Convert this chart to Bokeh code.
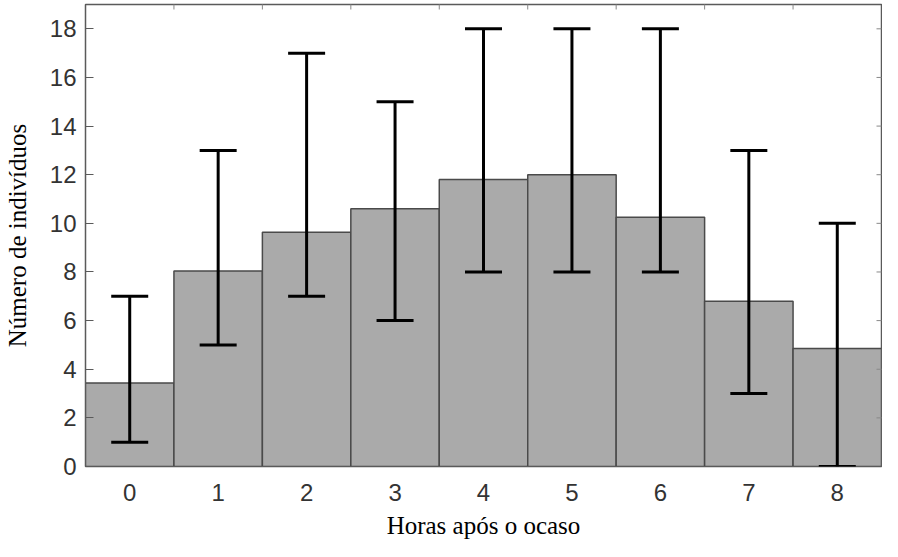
import math
from bokeh.plotting import figure
from bokeh.models import ColumnDataSource, Whisker, TeeHead, FixedTicker
from bokeh.embed import file_html
from bokeh.resources import INLINE

hours = [0, 1, 2, 3, 4, 5, 6, 7, 8]
means = [3.43, 8.04, 9.63, 10.6, 11.8, 12.0, 10.25, 6.8, 4.85]
lower = [1, 5, 7, 6, 8, 8, 8, 3, 0]
upper = [7, 13, 17, 15, 18, 18, 18, 13, 10]
y_ticks = [0, 2, 4, 6, 8, 10, 12, 14, 16, 18]
top_ticks = [0.5, 1.5, 2.5, 3.5, 4.5, 5.5, 6.5, 7.5]

X0, X1 = -0.5, 8.5
Y0, Y1 = 0, 19.0

src = ColumnDataSource(dict(x=hours, top=means, lo=lower, hi=upper))

p = figure(width=882, height=541, output_backend="svg", toolbar_location=None,
           x_range=(X0, X1), y_range=(Y0, Y1),
           min_border_left=85, min_border_right=1, min_border_top=4, min_border_bottom=75)
p.xgrid.visible = False
p.ygrid.visible = False
p.background_fill_color = "white"
p.border_fill_color = "white"
p.outline_line_color = "#5a5a5a"
p.outline_line_width = 1.5

p.vbar(x="x", top="top", width=1.0, source=src, fill_color="#aaaaaa",
       line_color="#4a4a4a", line_width=1.5)

w = Whisker(base="x", lower="lo", upper="hi", source=src, line_color="black", line_width=3,
            upper_head=TeeHead(size=37, line_width=3, line_color="black"),
            lower_head=TeeHead(size=37, line_width=3, line_color="black"),
            level="overlay")
p.add_layout(w)

# mirrored tick marks on the top and right edges of the frame
p.scatter(x=top_ticks, y=[Y1] * len(top_ticks), marker="dash", size=10, angle=math.pi / 2,
          line_color="#888888", line_width=1)
p.scatter(x=[X1] * len(y_ticks), y=y_ticks, marker="dash", size=10,
          line_color="#888888", line_width=1)

sans = "Liberation Sans"
serif = "Liberation Serif"

xa = p.xaxis[0]
xa.ticker = FixedTicker(ticks=hours)
xa.major_tick_in = 0
xa.major_tick_out = 0
xa.minor_tick_line_color = None
xa.axis_line_color = "#5a5a5a"
xa.major_label_text_font = sans
xa.major_label_text_font_size = "24px"
xa.major_label_text_color = "#333333"
xa.major_label_standoff = 17
xa.axis_label = "Horas após o ocaso"
xa.axis_label_text_font = serif
xa.axis_label_text_font_style = "normal"
xa.axis_label_text_font_size = "25px"
xa.axis_label_text_color = "black"
xa.axis_label_standoff = 8

ya = p.yaxis[0]
ya.ticker = FixedTicker(ticks=y_ticks)
ya.major_tick_in = 8
ya.major_tick_out = 0
ya.major_tick_line_color = "#5a5a5a"
ya.minor_tick_line_color = None
ya.axis_line_color = "#5a5a5a"
ya.major_label_text_font = sans
ya.major_label_text_font_size = "24px"
ya.major_label_text_color = "#333333"
ya.major_label_standoff = 9
ya.axis_label = "Número de indivíduos"
ya.axis_label_text_font = serif
ya.axis_label_text_font_style = "normal"
ya.axis_label_text_font_size = "25px"
ya.axis_label_text_color = "black"
ya.axis_label_standoff = 16

open("out.html", "w").write(file_html(p, INLINE))
